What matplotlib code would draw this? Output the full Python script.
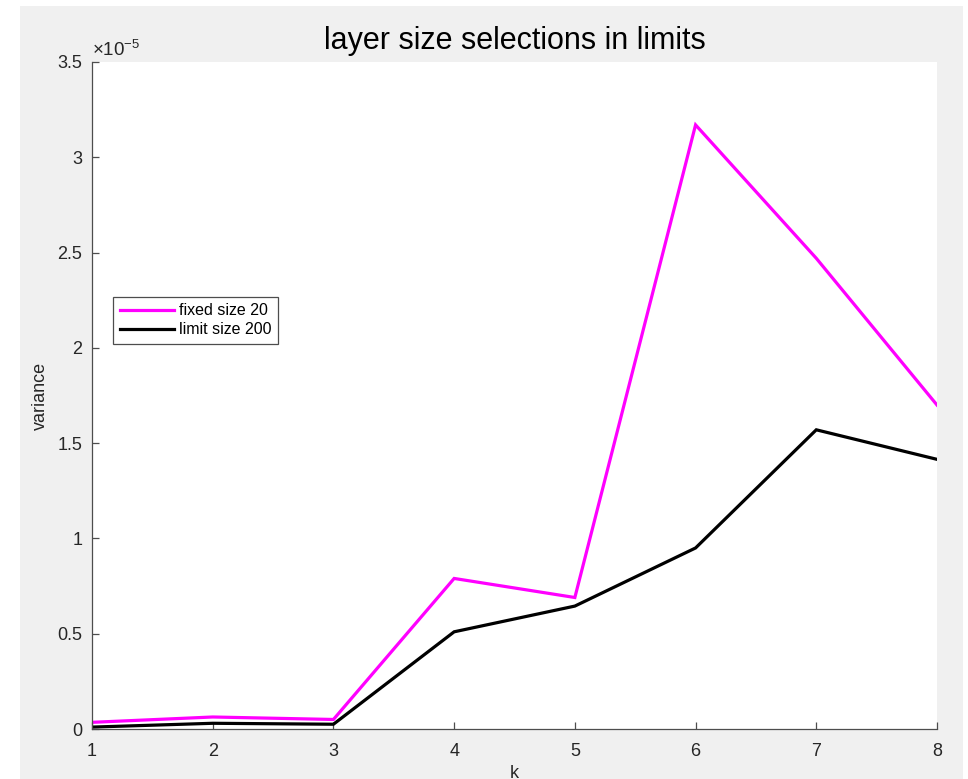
import matplotlib
matplotlib.use("Agg")
import matplotlib.pyplot as plt
from matplotlib.patches import Rectangle
from matplotlib.ticker import FuncFormatter

plt.rcParams['font.family'] = ['Liberation Sans', 'DejaVu Sans']
plt.rcParams['mathtext.default'] = 'regular'

# values (variance, x1e-5)
k = [1, 2, 3, 4, 5, 6, 7, 8]
fixed_20 = [0.035e-5, 0.063e-5, 0.050e-5, 0.79e-5, 0.69e-5, 3.17e-5, 2.47e-5, 1.70e-5]
limit_200 = [0.010e-5, 0.030e-5, 0.025e-5, 0.51e-5, 0.645e-5, 0.95e-5, 1.57e-5, 1.415e-5]
y_ticks = [0, 0.5e-5, 1e-5, 1.5e-5, 2e-5, 2.5e-5, 3e-5, 3.5e-5]

W, H = 968, 779
fig = plt.figure(figsize=(W / 100, H / 100), dpi=100, facecolor='white')
# MATLAB-style grey figure area inside a thin white margin
fig.patches.append(Rectangle((20 / W, 0), (963 - 20) / W, (H - 6) / H,
                             transform=fig.transFigure, facecolor='#f0f0f0',
                             edgecolor='none', zorder=-10))

ax = fig.add_axes([92 / W, (H - 729) / H, (937 - 92) / W, (729 - 62) / H])
ax.set_facecolor('white')

ax.plot(k, fixed_20, color='#ff00ff', lw=2.3, label='fixed size 20', solid_joinstyle='miter')
ax.plot(k, limit_200, color='black', lw=2.3, label='limit size 200', solid_joinstyle='miter')

ax.set_xlim(1, 8)
ax.set_ylim(0, 3.5e-5)
ax.set_xticks(k)
ax.set_yticks(y_ticks)
ax.yaxis.set_major_formatter(FuncFormatter(lambda v, p: f"{v / 1e-5:g}"))

for s in ['top', 'right']:
    ax.spines[s].set_visible(False)
for s in ['left', 'bottom']:
    ax.spines[s].set_color('#4d4d4d')
    ax.spines[s].set_linewidth(0.9)
ax.tick_params(direction='in', length=5, width=0.9, color='#4d4d4d',
               labelsize=13, labelcolor='#262626')
ax.tick_params(axis='x', pad=10)
ax.tick_params(axis='y', pad=7)

ax.text(0.0, 1.003, r'$\times10^{-5}$', transform=ax.transAxes,
        fontsize=13.5, color='#262626', ha='left', va='bottom')

ax.set_title('layer size selections in limits', fontsize=22, pad=9, color='black')
ax.set_ylabel('variance', fontsize=13, color='#262626', labelpad=6)
ax.set_xlabel('k', fontsize=13, color='#262626', labelpad=4)

leg = ax.legend(loc='upper left', bbox_to_anchor=(0.025, 0.648), fontsize=11.5,
                frameon=True, fancybox=False, framealpha=1, edgecolor='#4d4d4d',
                handlelength=3.4, handletextpad=0.3, borderpad=0.4,
                labelspacing=0.25, borderaxespad=0)
leg.get_frame().set_linewidth(0.9)

fig.savefig('out.png', dpi=100)
